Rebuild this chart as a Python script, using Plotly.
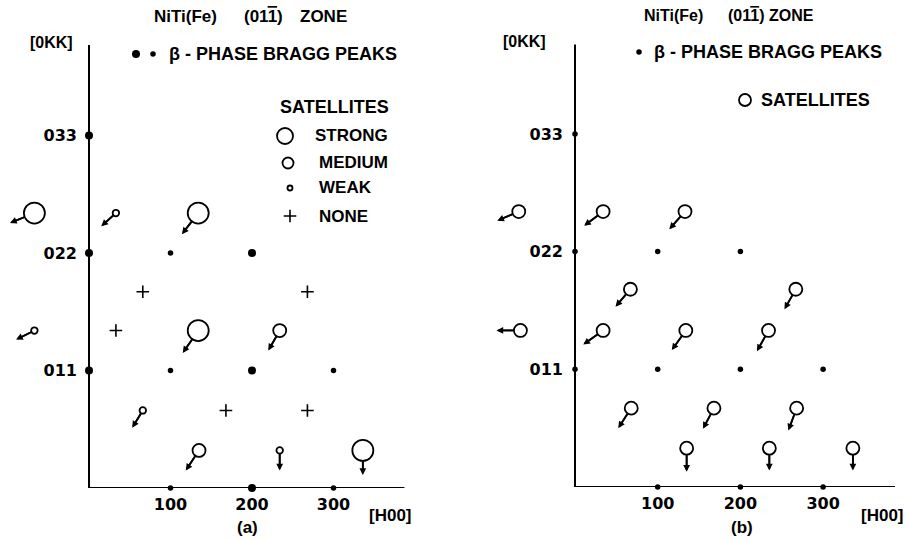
import math
import plotly.graph_objects as go

FIG_W, FIG_H = 907, 540

# ---------------- data ----------------
# reciprocal-lattice coordinates: H along [H00], K along [0KK]
x_tick_vals = [1, 2, 3]
x_tick_text = ["100", "200", "300"]
y_tick_vals = [1, 2, 3]
y_tick_text = ["011", "022", "033"]

# Panel (a) — beta-phase Bragg peaks
a_bragg_h = [0, 0, 0, 2, 2, 2, 1, 3, 1, 3, 1]
a_bragg_k = [1, 2, 3, 0, 1, 2, 0, 0, 1, 1, 2]
a_bragg_kind = ["big", "big", "big", "big", "big", "big", "small", "small", "small", "small", "small"]

# Panel (a) — satellites (intensity class) with displacement arrows (dH, dK)
a_sat_h = [-0.67, 0.33, 1.34, -0.67, 1.34, 2.34, 0.66, 1.35, 2.34, 3.36]
a_sat_k = [2.34, 2.34, 2.34, 1.34, 1.34, 1.34, 0.66, 0.32, 0.32, 0.32]
a_sat_int = ["strong", "weak", "strong", "weak", "strong", "medium", "weak", "medium", "weak", "strong"]
a_arrow_dh = [-0.30, -0.18, -0.20, -0.225, -0.19, -0.14, -0.13, -0.163, 0.0, 0.0]
a_arrow_dk = [-0.085, -0.113, -0.18, -0.077, -0.19, -0.17, -0.147, -0.17, -0.17, -0.21]

# Panel (a) — positions with no satellite
a_none_h = [0.66, 2.68, 0.33, 1.68, 2.68]
a_none_k = [1.67, 1.67, 1.34, 0.66, 0.66]

# Panel (b) — beta-phase Bragg peaks
b_bragg_h = [0, 0, 0, 1, 2, 3, 1, 2, 3, 1, 2]
b_bragg_k = [1, 2, 3, 0, 0, 0, 1, 1, 1, 2, 2]

# Panel (b) — satellites with displacement arrows
b_sat_h = [-0.68, 0.34, 1.33, 0.67, 2.67, -0.66, 0.34, 1.34, 2.34, 0.68, 1.68, 2.68, 1.35, 2.35, 3.36]
b_sat_k = [2.34, 2.34, 2.34, 1.68, 1.68, 1.33, 1.33, 1.33, 1.33, 0.67, 0.67, 0.67, 0.33, 0.33, 0.33]
b_arrow_dh = [-0.26, -0.23, -0.19, -0.18, -0.137, -0.29, -0.24, -0.17, -0.14, -0.157, -0.133, -0.10, 0.0, 0.0, 0.0]
b_arrow_dk = [-0.077, -0.12, -0.15, -0.148, -0.17, 0.0, -0.12, -0.167, -0.176, -0.17, -0.176, -0.19, -0.20, -0.19, -0.19]

# ---------------- styling / geometry ----------------
FONT = "Liberation Sans, Arial, Helvetica, sans-serif"
TICKFONT = dict(family="DejaVu Sans, sans-serif", size=16, color="black", weight="bold")
SAT_SIZE = {"strong": 21, "medium": 13, "weak": 6.5}
DOT_SIZE = {"big": 8, "small": 5.5}

PANELS = {
    "a": dict(xp=(0, 420), h0=89, sh=81.5, yp=(30, 488), k0=488, sk=117.5, xend=3.87, yend=3.77,
              xa="x", ya="y"),
    "b": dict(xp=(457, 907), h0=575, sh=82.7, yp=(30, 487), k0=487, sk=117.7, xend=3.87, yend=3.76,
              xa="x2", ya="y2"),
}


def pxh(p, px):  # pixel column -> H
    P = PANELS[p]
    return (px - P["h0"]) / P["sh"]


def pyk(p, py):  # pixel row -> K
    P = PANELS[p]
    return (P["k0"] - py) / P["sk"]


def paper_x(px):
    return px / FIG_W


def paper_y(py):
    return 1 - py / FIG_H


fig = go.Figure()


def dots(p, h, k, size):
    P = PANELS[p]
    fig.add_trace(go.Scatter(x=h, y=k, mode="markers", xaxis=P["xa"], yaxis=P["ya"],
                             marker=dict(symbol="circle", size=size, color="black"),
                             cliponaxis=False, showlegend=False, hoverinfo="skip"))


def circles(p, h, k, size):
    P = PANELS[p]
    fig.add_trace(go.Scatter(x=h, y=k, mode="markers", xaxis=P["xa"], yaxis=P["ya"],
                             marker=dict(symbol="circle-open", size=size, color="black",
                                         line=dict(width=1.8, color="black")),
                             cliponaxis=False, showlegend=False, hoverinfo="skip"))


def crosses(p, h, k, size=9):
    P = PANELS[p]
    fig.add_trace(go.Scatter(x=h, y=k, mode="markers", xaxis=P["xa"], yaxis=P["ya"],
                             marker=dict(symbol="cross-thin-open", size=size, color="black",
                                         line=dict(width=1.6, color="black")),
                             cliponaxis=False, showlegend=False, hoverinfo="skip"))


def arrows(p, h, k, dh, dk, sizes):
    P = PANELS[p]
    seg_x, seg_y = [], []
    for hi, ki, dhi, dki, s in zip(h, k, dh, dk, sizes):
        # start the shaft on the rim of the circle
        vx, vy = dhi * P["sh"], dki * P["sk"]
        n = math.hypot(vx, vy)
        r = s / 2
        th = hi + (vx / n) * r / P["sh"]
        tk = ki + (vy / n) * r / P["sk"]
        tip_h, tip_k = hi + dhi, ki + dki
        # shaft stops a little short of the tip so the head stays sharp
        sh_h = tip_h - (vx / n) * 3 / P["sh"]
        sh_k = tip_k - (vy / n) * 3 / P["sk"]
        seg_x += [th, sh_h, None]
        seg_y += [tk, sh_k, None]
        fig.add_annotation(x=tip_h, y=tip_k, ax=th, ay=tk,
                           xref=P["xa"], yref=P["ya"], axref=P["xa"], ayref=P["ya"],
                           text="", width=1, height=1, borderpad=0, borderwidth=0,
                           font=dict(size=1), showarrow=True, arrowhead=2, arrowsize=0.75,
                           arrowwidth=1.8, arrowcolor="black")
    fig.add_trace(go.Scatter(x=seg_x, y=seg_y, mode="lines", xaxis=P["xa"], yaxis=P["ya"],
                             line=dict(color="black", width=1.8), cliponaxis=False,
                             showlegend=False, hoverinfo="skip"))


# ----- panel (a) -----
for kind in ("big", "small"):
    hh = [h for h, t in zip(a_bragg_h, a_bragg_kind) if t == kind]
    kk = [k for k, t in zip(a_bragg_k, a_bragg_kind) if t == kind]
    dots("a", hh, kk, DOT_SIZE[kind])
for kind in ("strong", "medium", "weak"):
    hh = [h for h, t in zip(a_sat_h, a_sat_int) if t == kind]
    kk = [k for k, t in zip(a_sat_k, a_sat_int) if t == kind]
    circles("a", hh, kk, SAT_SIZE[kind])
crosses("a", a_none_h, a_none_k)
arrows("a", a_sat_h, a_sat_k, a_arrow_dh, a_arrow_dk, [SAT_SIZE[t] for t in a_sat_int])

# ----- panel (b) -----
dots("b", b_bragg_h, b_bragg_k, DOT_SIZE["small"])
circles("b", b_sat_h, b_sat_k, SAT_SIZE["medium"])
arrows("b", b_sat_h, b_sat_k, b_arrow_dh, b_arrow_dk, [SAT_SIZE["medium"]] * len(b_sat_h))

# ----- key symbols (placed by pixel position, mapped onto each panel's axes) -----
dots("a", [pxh("a", 136)], [pyk("a", 54)], DOT_SIZE["big"])
dots("a", [pxh("a", 153)], [pyk("a", 54)], DOT_SIZE["small"])
circles("a", [pxh("a", 285)], [pyk("a", 136)], 16)
circles("a", [pxh("a", 288)], [pyk("a", 163)], 11)
circles("a", [pxh("a", 290)], [pyk("a", 188)], 5)
crosses("a", [pxh("a", 290)], [pyk("a", 216)], 9)
dots("b", [pxh("b", 639)], [pyk("b", 52)], DOT_SIZE["small"])
circles("b", [pxh("b", 745)], [pyk("b", 100)], 12)

# ----- axes -----
for p, P in PANELS.items():
    suffix = "" if p == "a" else "2"
    xr = [pxh(p, P["xp"][0]), pxh(p, P["xp"][1])]
    yr = [pyk(p, P["yp"][1]), pyk(p, P["yp"][0])]
    common = dict(showgrid=False, zeroline=False, showline=False, ticks="",
                  tickfont=TICKFONT, fixedrange=True)
    fig.update_layout(**{
        "xaxis" + suffix: dict(domain=[paper_x(P["xp"][0]), paper_x(P["xp"][1])], range=xr,
                               anchor="y" + suffix, tickvals=x_tick_vals, ticktext=x_tick_text,
                               ticklabelstandoff=5, **common),
        "yaxis" + suffix: dict(domain=[paper_y(P["yp"][1]), paper_y(P["yp"][0])], range=yr,
                               anchor="free", position=paper_x(P["h0"]),
                               tickvals=y_tick_vals, ticktext=y_tick_text,
                               ticklabelstandoff=12, **common),
    })
    # axis lines starting at the origin
    fig.add_shape(type="line", xref=P["xa"], yref=P["ya"], x0=0, y0=0, x1=P["xend"], y1=0,
                  line=dict(color="black", width=2))
    fig.add_shape(type="line", xref=P["xa"], yref=P["ya"], x0=0, y0=0, x1=0, y1=P["yend"],
                  line=dict(color="black", width=2))

# ----- texts -----
def label(text, x, y, xanchor="center", size=17):
    fig.add_annotation(text=text, x=paper_x(x), y=paper_y(y), xref="paper", yref="paper",
                       xanchor=xanchor, yanchor="middle", showarrow=False,
                       font=dict(family=FONT, size=size, color="black", weight="bold"))


ZONE = '(01<span style="text-decoration:overline">1</span>)'
# panel (a)
label("NiTi(Fe)", 152, 17, "left", size=17)
label(ZONE, 242, 17, "left", size=17)
label("ZONE", 298, 17, "left", size=17)
label("[0KK]", 51, 43, size=16)
label("\u03b2 - PHASE BRAGG PEAKS", 167, 54, "left", size=18)
label("SATELLITES", 278, 107, "left", size=18)
label("STRONG", 313, 136, "left")
label("MEDIUM", 317, 163, "left")
label("WEAK", 317, 188, "left")
label("NONE", 317, 216, "left")
label("[H00]", 367, 515, "left")
label("(a)", 247, 527)
# panel (b)
label("NiTi(Fe)", 642, 15, "left", size=16)
label(ZONE, 726, 15, "left", size=16)
label("ZONE", 767, 15, "left", size=16)
label("[0KK]", 524, 42, size=16)
label("\u03b2 - PHASE BRAGG PEAKS", 652, 52, "left", size=18)
label("SATELLITES", 759, 100, "left", size=18)
label("[H00]", 859, 515, "left")
label("(b)", 742, 527)

fig.update_layout(width=FIG_W, height=FIG_H, margin=dict(l=0, r=0, t=0, b=0),
                  paper_bgcolor="white", plot_bgcolor="white", showlegend=False)

fig.write_html("out.html", config={"displayModeBar": False, "staticPlot": True},
               post_script="document.body.style.margin='0';")
